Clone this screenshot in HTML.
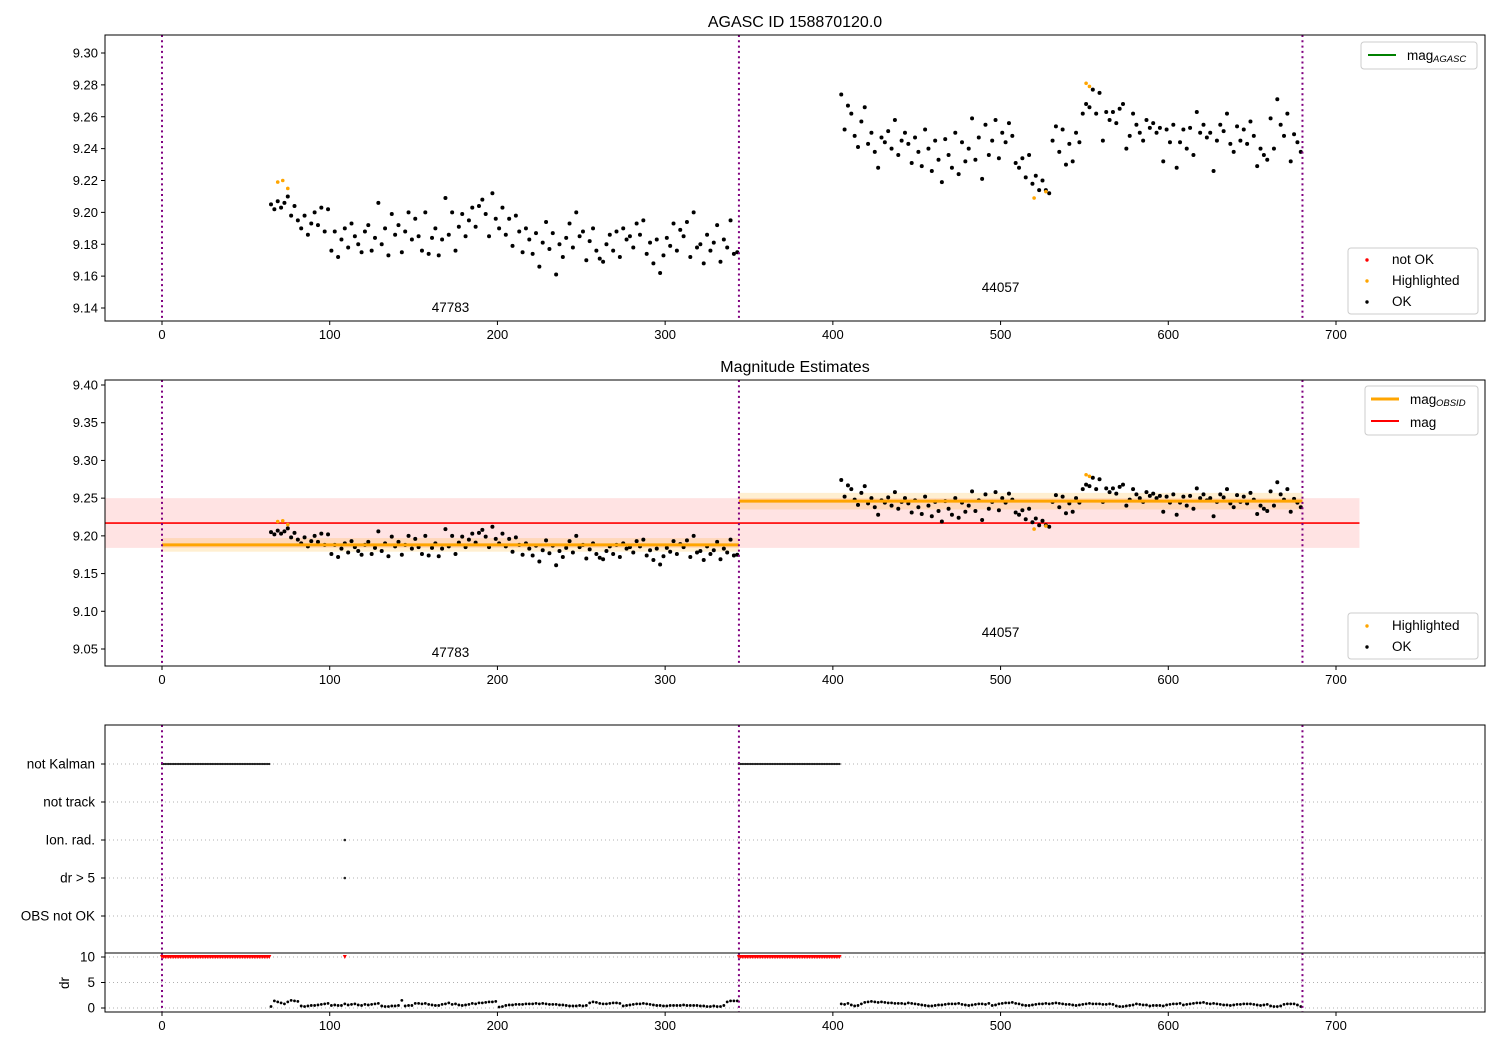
<!DOCTYPE html>
<html><head><meta charset="utf-8"><style>
body{margin:0;background:#fff}
svg{display:block;font-family:"Liberation Sans","DejaVu Sans",sans-serif}
</style></head><body>
<svg id="fig" width="1500" height="1050" xmlns="http://www.w3.org/2000/svg"></svg>
<script>
// ---------- data ----------
const seg1Start = 65, seg2Start = 405, stepT = 2;
const seg1Mag = [205,202,207,203,206,210,198,204,
195,190,198,186,193,200,192,203,188,202,
176,188,172,183,190,178,193,185,180,175,
188,192,176,184,206,180,190,173,199,186,
192,175,188,200,183,196,185,176,200,174,
184,190,173,183,209,186,200,176,191,199,
185,195,203,191,204,208,199,185,212,196,
190,203,186,196,179,198,188,175,190,183,
174,187,166,181,194,177,187,161,180,172,
184,193,178,200,185,188,170,182,190,176,
171,169,180,186,176,188,172,190,183,185,
178,193,186,195,174,181,168,183,162,173,
184,179,193,176,189,185,194,172,200,178,
180,168,186,176,181,192,169,183,178,195,
174,175];
const seg2Mag = [274,252,267,262,248,241,257,266,243,250,
238,228,247,244,251,240,258,236,245,250,
243,231,247,238,229,252,240,226,245,233,
219,246,236,228,250,224,244,232,240,259,
233,247,221,255,236,245,258,234,250,244,
256,248,231,228,234,222,236,218,223,214,
220,214,212,245,254,238,252,230,243,232,
250,244,262,268,266,277,262,275,245,263,
258,263,256,265,268,240,248,262,255,250,
245,258,253,256,250,253,232,252,244,255,
228,244,252,240,253,236,263,250,255,247,
250,226,245,255,251,262,243,238,254,245,
252,243,257,248,229,240,236,233,259,240,
271,255,248,262,232,249,244,238];
const hlTimes = [69,72,75,520,527,551,553];
const hlMags = [9.219,9.220,9.215,9.209,9.213,9.281,9.279];
const seg1Dr = [3,14,12,10,8,12,15,14,13,4,3,4,5,5,6,7,8,9,5,6,5,5,8,6,7,8,6,5,7,6,7,8,9,4,3,3,4,4,5,15,4,5,5,9,9,8,9,7,6,5,5,7,8,10,7,8,6,5,6,7,9,8,10,10,11,12,12,13,2,3,5,6,6,7,7,7,8,8,8,9,8,9,8,7,7,7,6,6,5,4,4,4,5,4,5,10,12,11,9,8,8,9,10,10,9,4,5,6,7,8,8,9,8,7,6,5,5,4,4,5,5,5,5,6,5,5,5,5,4,4,3,3,4,3,3,5,12,14,14,14];
const seg2Dr = [8,7,9,6,4,5,8,11,12,13,12,11,12,11,10,10,9,9,9,8,10,9,8,7,6,5,4,4,5,6,6,7,8,8,8,9,7,6,5,6,7,8,8,7,9,5,6,8,9,10,10,11,9,8,6,5,5,6,7,8,8,9,8,9,10,9,8,7,7,6,5,6,7,8,9,8,8,8,7,7,8,7,4,3,3,4,5,6,8,7,6,6,4,5,5,5,4,6,7,8,8,9,6,7,8,9,10,10,11,9,8,9,8,7,6,6,5,6,7,7,8,8,8,7,6,5,6,7,4,3,3,4,7,8,8,8,6,3];
const obsStarts = [0,344];
const obsEnds = [344,680];
const obsIds = ["47783","44057"];
const obsMag = [9.188,9.246];
const obsMagErr = [0.009,0.011];
const magAll = 9.217, magAllErr = 0.033;
const kalmanRanges = [[0,64],[344,404]];
const ionTimes = [109];
const xTicks = [0,100,200,300,400,500,600,700];
const y1Ticks = [9.14,9.16,9.18,9.20,9.22,9.24,9.26,9.28,9.30];
const y2Ticks = [9.05,9.10,9.15,9.20,9.25,9.30,9.35,9.40];
const flagCats = ["not Kalman","not track","Ion. rad.","dr > 5","OBS not OK"];
const drTicks = [0,5,10];

// ---------- helpers ----------
const NS="http://www.w3.org/2000/svg";
const svg=document.getElementById('fig');
function mk(tag,attrs,parent){const e=document.createElementNS(NS,tag);for(const k in attrs)e.setAttribute(k,attrs[k]);(parent||svg).appendChild(e);return e;}
const L=105,R=1485;
const xs=t=>162+(t)*(1336-162)/700;
const p1={top:35,bot:321,y:v=>53+(9.30-v)*255/0.16};
const p2={top:380,bot:666,y:v=>385+(9.40-v)*264/0.35};
const p3={top:725,bot:953};
const catY=i=>764+i*38;
const drY=v=>1008-v*25.5/5;
const DRBOT=1012;
const PR=2.0;

function xAxis(bot,name){
  const g=mk('g',{});
  
  
  xTicks.forEach(t=>{
    mk('line',{x1:xs(t),x2:xs(t),y1:bot,y2:bot+4,stroke:'#000','stroke-width':1},g);
    const tx=mk('text',{x:xs(t),y:bot+18,'font-size':13,'text-anchor':'middle'},g);tx.textContent=t;
  });
}
function yAxis(p,ticks,fmt,name){
  const g=mk('g',{});
  
  
  ticks.forEach(v=>{
    const y=p.y(v);
    mk('line',{x1:L-4,x2:L,y1:y,y2:y,stroke:'#000'},g);
    const tx=mk('text',{x:L-7,y:y+4.5,'font-size':13,'text-anchor':'end'},g);tx.textContent=v.toFixed(fmt);
  });
}
function frame(top,bot,name){
  const r=mk('rect',{x:L,y:top,width:R-L,height:bot-top,fill:'none',stroke:'#000','stroke-width':1});
  
  
}
function vlines(top,bot){
  [0,344,680].forEach(t=>{
    const l=mk('line',{x1:xs(t),x2:xs(t),y1:top,y2:bot,stroke:'#800080','stroke-width':2,'stroke-dasharray':'2,3.3'});
    
    
  });
}
function dot(x,y,c,r,name){
  const d=mk('circle',{cx:x,cy:y,r:r,fill:c});
  
  
}
function scatter(p){
  seg1Mag.forEach((v,i)=>dot(xs(seg1Start+i*stepT),p.y(9+v/1000),'#000',PR,'ok-point'));
  seg2Mag.forEach((v,i)=>dot(xs(seg2Start+i*stepT),p.y(9+v/1000),'#000',PR,'ok-point'));
  hlTimes.forEach((t,i)=>dot(xs(t),p.y(hlMags[i]),'orange',1.8,'highlighted-point'));
}
function txt(x,y,s,size,anchor,name){
  const t=mk('text',{x:x,y:y,'font-size':size,'text-anchor':anchor||'start'});t.textContent=s;
  
  
  return t;
}
function legendBox(x,y,w,h,name){
  const r=mk('rect',{x:x,y:y,width:w,height:h,rx:3,fill:'#fff','fill-opacity':0.85,stroke:'#ccc'});
  
  
}

// ---------- panel 1 ----------
txt(795,27,'AGASC ID 158870120.0',16,'middle','title-agasc');
scatter(p1);
vlines(p1.top,p1.bot);
obsIds.forEach((id,i)=>txt(xs(i==0?172:500),i==0?312:292,id,13.5,'middle','obsid-label'));
frame(p1.top,p1.bot,'top-axes');
xAxis(p1.bot,'x-axis-top');
yAxis(p1,y1Ticks,2,'y-axis-top');
legendBox(1361,42,116,27,'legend-agasc');
mk('line',{x1:1368,x2:1396,y1:55,y2:55,stroke:'green','stroke-width':2});
txt(1407,60,'mag',13.5,'start','legend-mag-agasc');
txt(1433,62,'AGASC',9.5,'start','legend-sub').setAttribute('font-style','italic');
legendBox(1348,248,130,66,'legend-status');
dot(1367,260,'red',1.7,'legend-notok-marker');txt(1392,264,'not OK',13.5,'start','legend-notok');
dot(1367,281,'orange',1.7,'legend-hl-marker');txt(1392,285,'Highlighted',13.5,'start','legend-highlighted');
dot(1367,302,'#000',1.7,'legend-ok-marker');txt(1392,306,'OK',13.5,'start','legend-ok');

// ---------- panel 2 ----------
txt(795,372,'Magnitude Estimates',16,'middle','title-estimates');
const band=mk('rect',{x:L,y:p2.y(magAll+magAllErr),width:xs(714)-L,height:p2.y(magAll-magAllErr)-p2.y(magAll+magAllErr),fill:'rgba(255,0,0,0.11)'});


obsStarts.forEach((s,i)=>{
  const b=mk('rect',{x:xs(s),y:p2.y(obsMag[i]+obsMagErr[i]),width:xs(obsEnds[i])-xs(s),height:p2.y(obsMag[i]-obsMagErr[i])-p2.y(obsMag[i]+obsMagErr[i]),fill:'rgba(255,165,0,0.18)'});
  
  
});
const ml=mk('line',{x1:L,x2:xs(714),y1:p2.y(magAll),y2:p2.y(magAll),stroke:'red','stroke-width':1.6});


scatter(p2);
obsStarts.forEach((s,i)=>{
  const l=mk('line',{x1:xs(s),x2:xs(obsEnds[i]),y1:p2.y(obsMag[i]),y2:p2.y(obsMag[i]),stroke:'orange','stroke-width':3});
  
  
});
vlines(p2.top,p2.bot);
obsIds.forEach((id,i)=>txt(xs(i==0?172:500),i==0?657:637,id,13.5,'middle','obsid-label'));
frame(p2.top,p2.bot,'middle-axes');
xAxis(p2.bot,'x-axis-middle');
yAxis(p2,y2Ticks,2,'y-axis-middle');
legendBox(1365,386,113,49,'legend-mags');
mk('line',{x1:1371,x2:1399,y1:399,y2:399,stroke:'orange','stroke-width':3});
txt(1410,404,'mag',13.5,'start','legend-mag-obsid');
txt(1436,406,'OBSID',9.5,'start','legend-sub').setAttribute('font-style','italic');
mk('line',{x1:1371,x2:1399,y1:421,y2:421,stroke:'red','stroke-width':2});
txt(1410,427,'mag',13.5,'start','legend-mag');
legendBox(1348,613,130,46,'legend-status-2');
dot(1367,626,'orange',1.7,'legend-hl-marker');txt(1392,630,'Highlighted',13.5,'start','legend-highlighted');
dot(1367,647,'#000',1.7,'legend-ok-marker');txt(1392,651,'OK',13.5,'start','legend-ok');

// ---------- panel 3 (flags) ----------
flagCats.forEach((c,i)=>{
  const g=mk('line',{x1:L,x2:R,y1:catY(i),y2:catY(i),stroke:'#b0b0b0','stroke-width':1,'stroke-dasharray':'1,3'});
  
  
  mk('line',{x1:L-4,x2:L,y1:catY(i),y2:catY(i),stroke:'#000'});
  txt(95,catY(i)+4.5,c,13.5,'end','flag-label');
});
kalmanRanges.forEach(r=>{
  for(let t=r[0];t<=r[1];t++){dot(xs(t),catY(0),'#222',1.1,'not-kalman-point');}
});
ionTimes.forEach(t=>{dot(xs(t),catY(2),'#222',1.3,'ion-rad-point');dot(xs(t),catY(3),'#222',1.3,'dr-gt-5-point');});
drTicks.forEach(v=>{
  const g=mk('line',{x1:L,x2:R,y1:drY(v),y2:drY(v),stroke:'#b0b0b0','stroke-dasharray':'1,3'});
  
  
  mk('line',{x1:L-4,x2:L,y1:drY(v),y2:drY(v),stroke:'#000'});
  txt(95,drY(v)+4.5,String(v),13.5,'end','dr-tick');
});
const drl=txt(0,0,'dr',13.5,'middle','dr-axis-title');
drl.setAttribute('transform','translate(69,983) rotate(-90)');
function tri(t,v){
  const x=xs(t),y=drY(v);
  const p=mk('polygon',{points:`${x-2},${y-2} ${x+2},${y-2} ${x},${y+2}`,fill:'red'});
  
  
}
kalmanRanges.forEach(r=>{for(let t=r[0];t<=r[1];t++)tri(t,10);});
ionTimes.forEach(t=>tri(t,10));
seg1Dr.forEach((v,i)=>dot(xs(seg1Start+i*stepT),drY(v/10),'#000',1.4,'dr-point'));
seg2Dr.forEach((v,i)=>dot(xs(seg2Start+i*stepT),drY(v/10),'#000',1.4,'dr-point'));
vlines(p3.top,DRBOT);
frame(p3.top,DRBOT,'flags-axes');
const sep=mk('line',{x1:L,x2:R,y1:p3.bot,y2:p3.bot,stroke:'#000','stroke-width':1});


xAxis(DRBOT,'x-axis-bottom');
</script>
</body></html>
